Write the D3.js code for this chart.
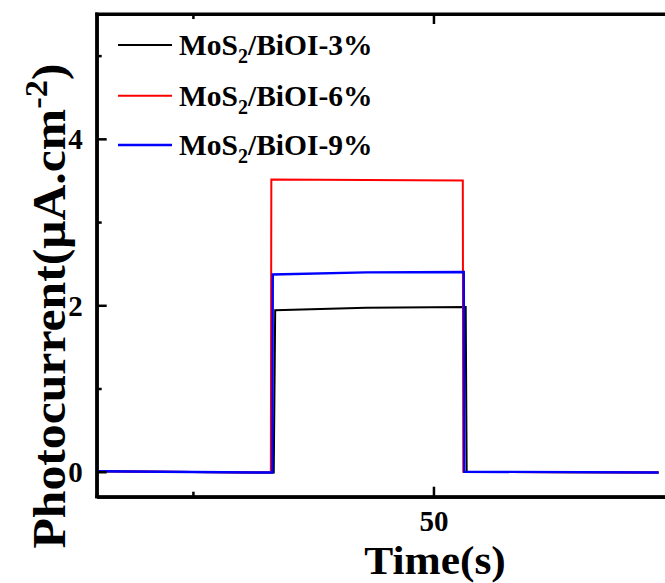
<!DOCTYPE html>
<html>
<head>
<meta charset="utf-8">
<script src="https://cdn.jsdelivr.net/npm/d3@7"></script>
<style>
  html, body { margin: 0; padding: 0; background: #fff; }
  svg { display: block; }
  text { font-family: "Liberation Serif", "Times New Roman", serif; font-weight: bold; fill: #000; }
</style>
</head>
<body>
<svg id="chart" width="665" height="583"></svg>
<script>
// ---- data ----
const seriesNames = ["MoS2/BiOI-3%", "MoS2/BiOI-6%", "MoS2/BiOI-9%"];
const seriesColors = ["#000000", "#ff0000", "#0000ff"];

const timeBlack    = [15.1, 33.4, 33.55, 43.0, 53.35, 53.45, 73.4];
const currentBlack = [0.005, -0.01, 1.94, 1.97, 1.98, 0.0, -0.01];

const timeRed      = [15.1, 33.1, 33.15, 43.0, 53.05, 53.1, 73.4];
const currentRed   = [0.005, -0.01, 3.51, 3.505, 3.50, 0.0, -0.01];

const timeBlue     = [15.1, 33.25, 33.3, 43.0, 53.15, 53.2, 73.4];
const currentBlue  = [0.005, -0.01, 2.37, 2.395, 2.40, 0.0, -0.01];

const xMajorTicks = [50];
const xMinorTicks = [25];
const yMajorTicks = [0, 2, 4];
const yMinorTicks = [1, 3, 5];

const xDomain = [15, 75];
const yDomain = [-0.3, 5.5];

// ---- layout ----
const svg = d3.select("#chart");
const pL = 96.7, pT = 14, pR = 674, pB = 496.7;

const x = d3.scaleLinear().domain(xDomain).range([pL, pR]);
const y = d3.scaleLinear().domain(yDomain).range([pB, pT]);

const series = [
  { name: seriesNames[0], color: seriesColors[0], t: timeBlack, v: currentBlack, w: 2 },
  { name: seriesNames[1], color: seriesColors[1], t: timeRed,   v: currentRed,   w: 2 },
  { name: seriesNames[2], color: seriesColors[2], t: timeBlue,  v: currentBlue,  w: 2.4 }
];

const line = d3.line().x(d => x(d[0])).y(d => y(d[1]));

series.forEach(s => {
  const pts = s.t.map((t, i) => [t, s.v[i]]);
  svg.append("path")
    .datum(pts)
    .attr("d", line)
    .attr("fill", "none")
    .attr("stroke", s.color)
    .attr("stroke-width", s.w)
    .attr("stroke-linejoin", "miter");
});

// ---- axes ----
const axisW = 3;
const gx = svg.append("g").attr("transform", `translate(0,${pB})`)
  .call(d3.axisBottom(x).tickValues(xMajorTicks).tickSizeInner(-10).tickSizeOuter(0).tickPadding(14).tickFormat(d3.format("d")));
const gx2 = svg.append("g").attr("transform", `translate(0,${pB})`)
  .call(d3.axisBottom(x).tickValues(xMinorTicks).tickSizeInner(-5).tickSizeOuter(0).tickFormat(""));

const gxt = svg.append("g").attr("transform", `translate(0,${pT})`)
  .call(d3.axisTop(x).tickValues(xMajorTicks).tickSizeInner(-10).tickSizeOuter(0).tickFormat(""));
const gxt2 = svg.append("g").attr("transform", `translate(0,${pT})`)
  .call(d3.axisTop(x).tickValues(xMinorTicks).tickSizeInner(-5).tickSizeOuter(0).tickFormat(""));

const gy = svg.append("g").attr("transform", `translate(${pL},0)`)
  .call(d3.axisLeft(y).tickValues(yMajorTicks).tickSizeInner(-10).tickSizeOuter(0).tickPadding(14).tickFormat(d3.format("d")));
const gy2 = svg.append("g").attr("transform", `translate(${pL},0)`)
  .call(d3.axisLeft(y).tickValues(yMinorTicks).tickSizeInner(-5).tickSizeOuter(0).tickFormat(""));

[gx, gx2, gxt, gxt2, gy, gy2].forEach(g => {
  g.selectAll(".domain").attr("stroke", "#000").attr("stroke-width", axisW);
  g.selectAll(".tick line").attr("stroke", "#000").attr("stroke-width", 2.5);
  g.selectAll(".tick text").attr("font-size", 29).attr("font-family", "Liberation Serif").attr("font-weight", "bold").attr("fill", "#000");
});
gy.selectAll(".tick text").attr("dy", "0.34em");

// frame lines
svg.append("line").attr("x1", pL - axisW/2).attr("x2", pR).attr("y1", pT).attr("y2", pT).attr("stroke", "#000").attr("stroke-width", axisW);
svg.append("line").attr("x1", pL).attr("x2", pL).attr("y1", pT - axisW/2).attr("y2", pB + axisW/2).attr("stroke", "#000").attr("stroke-width", axisW);
svg.append("line").attr("x1", pL - axisW/2).attr("x2", pR).attr("y1", pB).attr("y2", pB).attr("stroke", "#000").attr("stroke-width", axisW);
svg.append("line").attr("x1", pR).attr("x2", pR).attr("y1", pT).attr("y2", pB).attr("stroke", "#000").attr("stroke-width", axisW);

// axis titles
svg.append("text")
  .attr("transform", "translate(435,574) scale(1.06,1)")
  .attr("text-anchor", "middle")
  .attr("font-size", 41)
  .text("Time(s)");

const yt = svg.append("text")
  .attr("transform", "translate(65,306) rotate(-90) scale(1.08,1)")
  .attr("text-anchor", "middle")
  .attr("font-size", 46);
yt.append("tspan").text("Photocurrent(\u03bcA.cm");
yt.append("tspan").attr("font-size", 32).attr("dy", "-0.55em").text("-2");
yt.append("tspan").attr("dy", "0.35em").text(")");

// legend
const legY = [45, 95.7, 145];
series.forEach((s, i) => {
  const ly = legY[i];
  svg.append("line").attr("x1", 118).attr("x2", 172).attr("y1", ly).attr("y2", ly)
    .attr("stroke", s.color).attr("stroke-width", s.w);
  const t = svg.append("text").attr("x", 179).attr("y", ly + 10).attr("font-size", 29.5);
  const parts = s.name.split("2/");
  t.append("tspan").text(parts[0]);
  t.append("tspan").attr("font-size", 20).attr("dy", 8).text("2");
  t.append("tspan").attr("dy", -8).text("/" + parts[1]);
});
</script>
</body>
</html>
